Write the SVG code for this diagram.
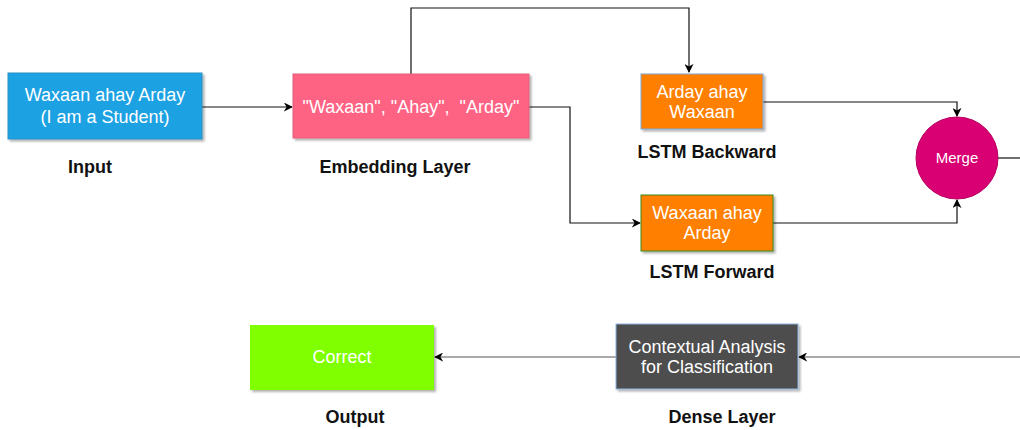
<svg xmlns="http://www.w3.org/2000/svg" width="1020" height="430" viewBox="0 0 1020 430">
<defs>
<filter id="sh" x="-10%" y="-10%" width="130%" height="140%">
<feDropShadow dx="2" dy="2" stdDeviation="1.2" flood-color="#000" flood-opacity="0.3"/>
</filter>
<marker id="ah" viewBox="0 0 10 10" refX="9" refY="5" markerWidth="9" markerHeight="9" markerUnits="userSpaceOnUse" orient="auto">
<path d="M0,0 L10,5 L0,10 L3,5 Z" fill="#000"/>
</marker>
<style>
.bt{font-family:"Liberation Sans",Arial,sans-serif;font-size:18px;fill:#fff;text-anchor:middle}
.lb{font-family:"Liberation Sans",Arial,sans-serif;font-size:18px;font-weight:bold;fill:#111;text-anchor:middle}
.cn{fill:none;stroke:#111;stroke-width:1.2;marker-end:url(#ah)}
.box{filter:url(#sh)}
</style>
</defs>
<rect width="1020" height="430" fill="#fff"/>
<g id="connectors">
<path class="cn" d="M202,107 L292,107"/>
<path class="cn" d="M411,74 L411,8 L689,8 L689,72"/>
<path class="cn" d="M529,107 L570,107 L570,223 L640,223"/>
<path class="cn" d="M763,102 L957,102 L957,116"/>
<path class="cn" d="M773,223 L957,223 L957,200"/>
<path d="M998,158 L1020,158" fill="none" stroke="#111" stroke-width="1.2"/>
<path class="cn" d="M1020,357 L799,357" style="stroke:#555"/>
<path class="cn" d="M616,357 L435,357" style="stroke:#555"/>
</g>
<g id="input">
<rect class="box" x="8" y="73" width="194" height="66" fill="#1BA1E2" stroke="#2a8fc8" stroke-width="1"/>
<text class="bt" x="105" y="101">Waxaan ahay Arday</text>
<text class="bt" x="105" y="123">(I am a Student)</text>
<text class="lb" x="90" y="173">Input</text>
</g>
<g id="embedding">
<rect class="box" x="293" y="74" width="236" height="64" fill="#FF6384" stroke="#e0607a" stroke-width="1"/>
<text class="bt" x="411" y="113" xml:space="preserve">"Waxaan", "Ahay",  "Arday"</text>
<text class="lb" x="395" y="173">Embedding Layer</text>
</g>
<g id="lstm-backward">
<rect class="box" x="641" y="74" width="122" height="55" fill="#FF8000" stroke="#7ea6d8" stroke-width="1"/>
<text class="bt" x="702" y="98">Arday ahay</text>
<text class="bt" x="702" y="118">Waxaan</text>
<text class="lb" x="707" y="158">LSTM Backward</text>
</g>
<g id="lstm-forward">
<rect class="box" x="641" y="195" width="132" height="56" fill="#FF8000" stroke="#3a8a1a" stroke-width="1"/>
<text class="bt" x="707" y="219">Waxaan ahay</text>
<text class="bt" x="707" y="239">Arday</text>
<text class="lb" x="712" y="278">LSTM Forward</text>
</g>
<g id="merge">
<circle cx="957" cy="158" r="41" fill="#D80073" stroke="#b8005f" stroke-width="1"/>
<text class="bt" x="957" y="163" style="font-size:15px">Merge</text>
</g>
<g id="dense">
<rect class="box" x="616" y="324" width="182" height="65" fill="#4D4D4D" stroke="#8fb4e0" stroke-width="1"/>
<text class="bt" x="707" y="353">Contextual Analysis</text>
<text class="bt" x="707" y="373">for Classification</text>
<text class="lb" x="722" y="423">Dense Layer</text>
</g>
<g id="output">
<rect class="box" x="250" y="325" width="184" height="65" fill="#80FF00"/>
<text class="bt" x="342" y="363">Correct</text>
<text class="lb" x="355" y="423">Output</text>
</g>
</svg>
